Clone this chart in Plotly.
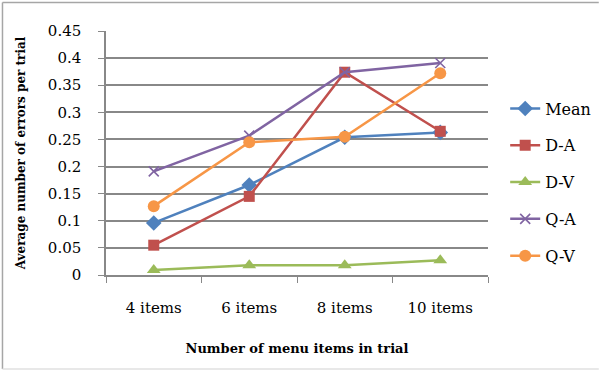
import plotly.graph_objects as go

# Menu-size conditions and the average errors per trial for each group
categories = ["4 items", "6 items", "8 items", "10 items"]
mean_vals = [0.096, 0.166, 0.254, 0.263]
da_vals = [0.055, 0.145, 0.374, 0.265]
dv_vals = [0.009, 0.018, 0.018, 0.027]
qa_vals = [0.191, 0.257, 0.374, 0.391]
qv_vals = [0.127, 0.245, 0.255, 0.372]

y_ticks = [0, 0.05, 0.1, 0.15, 0.2, 0.25, 0.3, 0.35, 0.4, 0.45]
y_tick_text = ["0", "0.05", "0.1", "0.15", "0.2", "0.25", "0.3", "0.35", "0.4", "0.45"]

series = [
    ("Mean", mean_vals, "#4F81BD", "diamond", 12, None),
    ("D-A", da_vals, "#C0504D", "square", 11, None),
    ("D-V", dv_vals, "#9BBB59", "triangle-up", 12, None),
    ("Q-A", qa_vals, "#8064A2", "x-thin", 10, 1.6),
    ("Q-V", qv_vals, "#F79646", "circle", 12, None),
]

FONT = "DejaVu Serif"

fig = go.Figure()
for name, vals, color, symbol, size, mline in series:
    marker = dict(symbol=symbol, size=size, color=color)
    if mline:
        marker["line"] = dict(color=color, width=mline)
    fig.add_trace(go.Scatter(
        x=categories, y=vals, name=name, mode="lines+markers",
        legendgroup=name,
        line=dict(color=color, width=2.5), marker=marker,
    ))

fig.update_layout(
    width=599, height=371,
    margin=dict(l=106, r=111, t=31, b=96, autoexpand=False),
    paper_bgcolor="white", plot_bgcolor="white",
    font=dict(family=FONT, size=15, color="#000000"),
    showlegend=True,
    legend=dict(
        x=1.045, y=0.381, xanchor="left", yanchor="middle",
        font=dict(family=FONT, size=16, color="#000000"),
        traceorder="grouped", tracegroupgap=13,
        itemwidth=30, bgcolor="rgba(0,0,0,0)",
    ),
    xaxis=dict(
        type="category", range=[-0.5, 3.5],
        showgrid=False, showline=True, linecolor="#888888", linewidth=1.5,
        ticks="outside", tickson="boundaries", ticklen=6, tickcolor="#888888",
        tickfont=dict(family=FONT, size=15), ticklabelstandoff=18,
        title=dict(text="<b>Number of menu items in trial</b>",
                   font=dict(family=FONT, size=13), standoff=28),
    ),
    yaxis=dict(
        range=[0, 0.45], tickvals=y_ticks, ticktext=y_tick_text,
        showgrid=True, gridcolor="#888888", gridwidth=1.5,
        showline=True, linecolor="#888888", linewidth=1.5,
        ticks="outside", ticklen=6, tickcolor="#888888",
        tickfont=dict(family=FONT, size=15), zeroline=False,
        ticklabelstandoff=14,
        title=dict(text="<b>Average number of errors per trial</b>",
                   font=dict(family=FONT, size=12), standoff=20),
    ),
)

# Chart frame
fig.add_shape(type="line", xref="paper", yref="paper",
              x0=-0.271, x1=-0.271, y0=-0.385, y1=1.117,
              line=dict(color="#A6A6A6", width=1.5))
fig.add_shape(type="line", xref="paper", yref="paper",
              x0=-0.271, x1=1.29, y0=1.117, y1=1.117,
              line=dict(color="#A6A6A6", width=1.5))
fig.add_shape(type="line", xref="paper", yref="paper",
              x0=-0.271, x1=1.29, y0=-0.385, y1=-0.385,
              line=dict(color="#E0E0E0", width=1.5))

fig.write_html("out.html")
